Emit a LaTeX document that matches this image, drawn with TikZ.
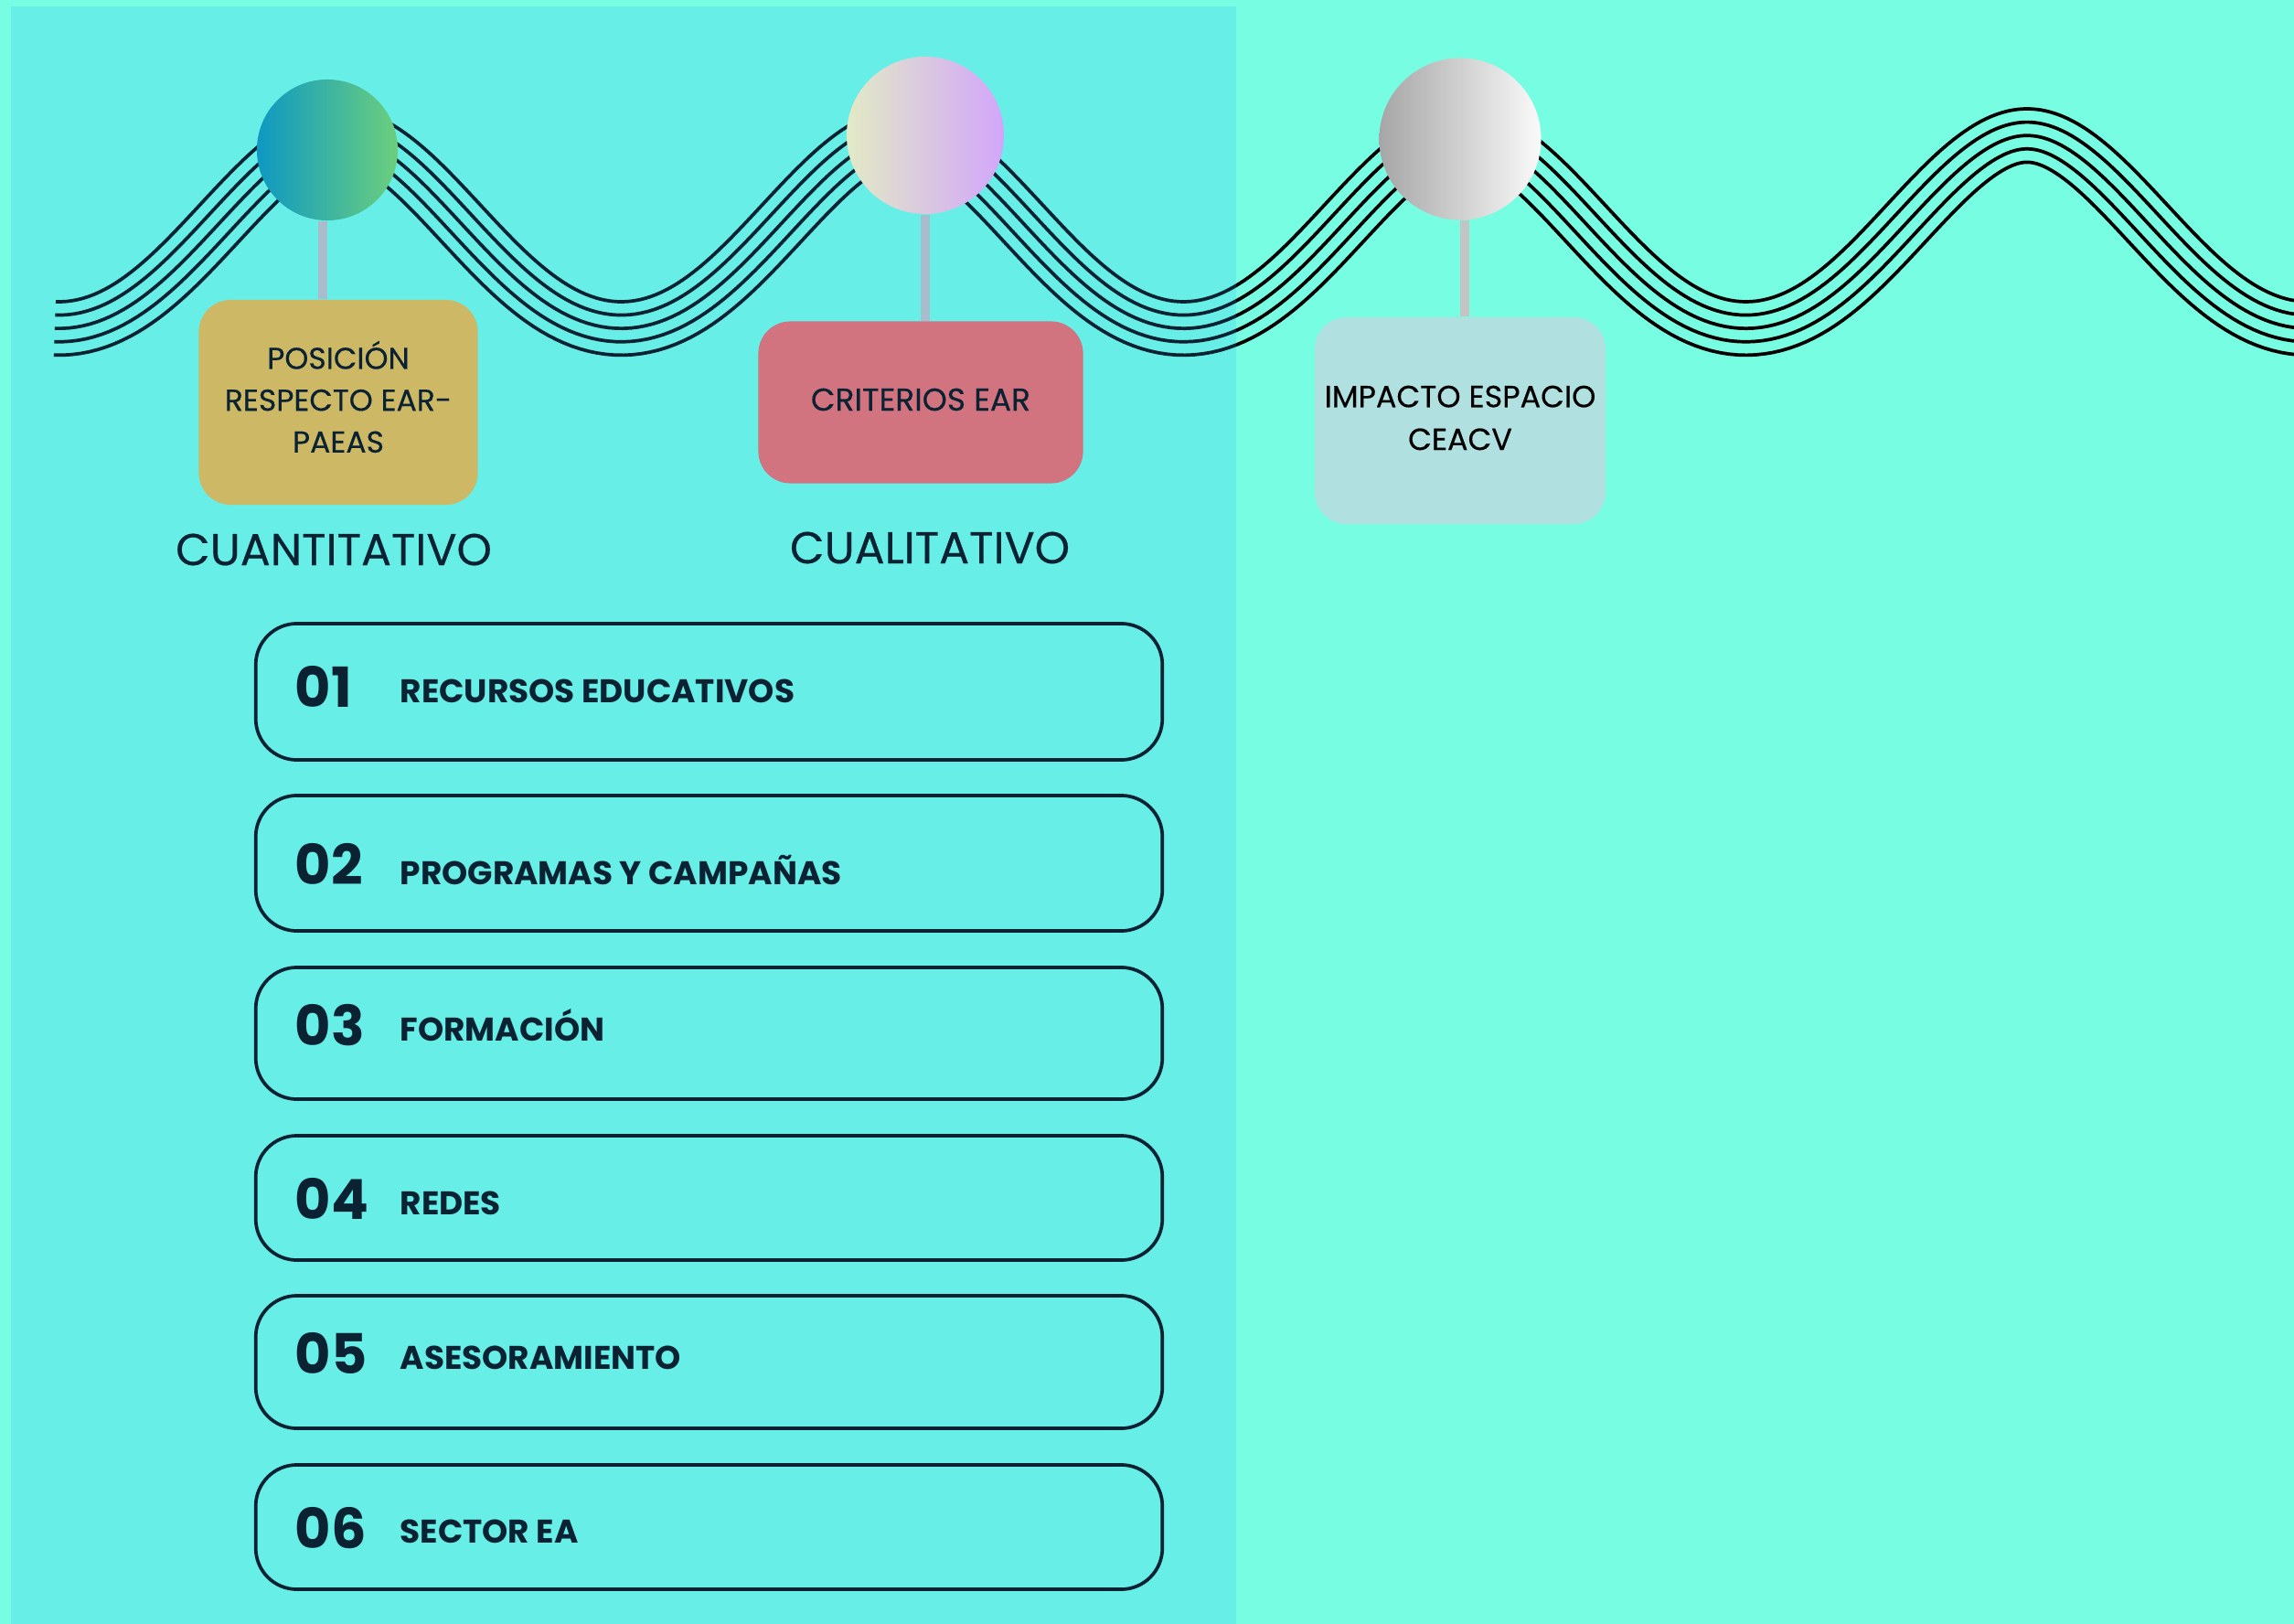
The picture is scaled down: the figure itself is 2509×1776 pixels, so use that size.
\documentclass[tikz,border=0pt]{standalone}
\usepackage{fontspec}
\setmainfont{Poppins}
\newfontfamily\popmed[FakeBold=0.35]{Poppins}
\definecolor{bgmint}{HTML}{77FDE1}
\definecolor{panel}{HTML}{67EEE7}
\definecolor{navy}{HTML}{0B2233}
\definecolor{gold}{HTML}{CDB866}
\definecolor{rose}{HTML}{D27380}
\definecolor{paleblue}{HTML}{B0E0E0}
\definecolor{stemblue}{HTML}{A8BCCC}
\definecolor{stemgray}{HTML}{C4C4C4}
\definecolor{cal}{HTML}{0E98C2}
\definecolor{car}{HTML}{6CCF7E}
\definecolor{cbl}{HTML}{E2EAC6}
\definecolor{cbr}{HTML}{D2A6FA}
\definecolor{ccl}{HTML}{A6A6A6}
\definecolor{ccr}{HTML}{FAFAFA}
\begin{document}
\begin{tikzpicture}[x=0.01cm,y=-0.01cm,
  wave/.style={line width=0.037cm, line join=round},
  stem/.style={line width=0.095cm},
  ball/.style={circle, inner sep=0pt},
  card/.style={rounded corners=0.35cm, inner sep=0pt},
  cardtext/.style={inner sep=0pt, align=center},
  itembox/.style={draw=navy, line width=0.037cm, rounded corners=0.45cm, minimum width=9.91cm, inner sep=0pt},
  num/.style={anchor=base west, text=navy, font=\bfseries\fontsize{17.2}{17.2}\selectfont, inner sep=0pt},
  itemtext/.style={anchor=base west, text=navy, font=\bfseries\fontsize{10.2}{10.2}\selectfont, inner sep=0pt},
  heading/.style={text=navy, inner sep=0pt, font=\popmed\fontsize{13.9}{13.9}\selectfont}
]
\useasboundingbox (0,0) rectangle (2509,1776);
\clip (0,0) rectangle (2509,1776);
\fill[bgmint] (0,0) rectangle (2509,1776);
\fill[panel] (12,7) rectangle (1352,1776);

% wave
\foreach \col/\xa/\xb in {navy/0/1352, black/1352/2509} {
  \begin{scope}
    \clip (\xa,0) rectangle (\xb,1776);
    \foreach \k in {0,...,4} {
      \draw[wave, \col] plot[domain=61:2560, samples=420, variable=\t]
        ({\t - \k*14.6*1.0778*sin(((\t-372)/615)*360)/sqrt(1+1.1616*sin(((\t-372)/615)*360)^2)},
         {224.5 - 105.5*cos(((\t-372)/615)*360) + \k*14.6/sqrt(1+1.1616*sin(((\t-372)/615)*360)^2)});
    }
  \end{scope}
}

% circles
\node[ball, minimum size=1.54cm, left color=cal, right color=car] (c1) at (358,164) {};
\node[ball, minimum size=1.72cm, left color=cbl, right color=cbr] (c2) at (1012,148) {};
\node[ball, minimum size=1.77cm, left color=ccl, right color=ccr] (c3) at (1597,152) {};

% cards
\node[card, fill=gold, minimum width=3.05cm, minimum height=2.24cm] (b1) at (370,440) {};
\node[card, fill=rose, minimum width=3.55cm, minimum height=1.77cm] (b2) at (1007,440) {};
\node[card, fill=paleblue, minimum width=3.18cm, minimum height=2.26cm] (b3) at (1597,460) {};

\node[cardtext, text=navy, font=\popmed\fontsize{9.4}{13}\selectfont] (l1) at (370,434)
      {POSICIÓN\\RESPECTO EAR-\\PAEAS};
\node[cardtext, text=navy, font=\popmed\fontsize{9.8}{13}\selectfont] (l2) at (1007,437) {CRITERIOS EAR};
\node[cardtext, text=black, font=\popmed\fontsize{9.5}{13.3}\selectfont] (l3) at (1597,457)
      {IMPACTO ESPACIO\\CEACV};

% stems
\draw[stem, stemblue] ([xshift=-0.05cm]c1.south) -- ([xshift=-0.05cm]c1.south |- b1.north);
\draw[stem, stemblue] (c2.south) -- (c2.south |- b2.north);
\draw[stem, stemgray] ([xshift=0.05cm]c3.south) -- ([xshift=0.05cm]c3.south |- b3.north);

% headings
\node[heading] (h1) at (365,601) {CUANTITATIVO};
\node[heading] (h2) at (1017,599) {CUALITATIVO};

% list
\node[itembox, minimum height=1.49cm] (i1) at (775.5,756.5) {};
\node[itembox, minimum height=1.48cm] (i2) at (775.5,944) {};
\node[itembox, minimum height=1.44cm] (i3) at (775.5,1130) {};
\node[itembox, minimum height=1.36cm] (i4) at (775.5,1310) {};
\node[itembox, minimum height=1.45cm] (i5) at (775.5,1489.5) {};
\node[itembox, minimum height=1.36cm] (i6) at (775.5,1670) {};

\node[num] (n1) at (322,773) {01};
\node[num] (n2) at (322,967) {02};
\node[num] (n3) at (322,1143) {03};
\node[num] (n4) at (322,1333) {04};
\node[num] (n5) at (322,1502) {05};
\node[num] (n6) at (322,1693) {06};

\node[itemtext] (t1) at (437,768) {RECURSOS EDUCATIVOS};
\node[itemtext] (t2) at (437,967) {PROGRAMAS Y CAMPAÑAS};
\node[itemtext] (t3) at (437,1138) {FORMACIÓN};
\node[itemtext] (t4) at (437,1328) {REDES};
\node[itemtext] (t5) at (437,1497) {ASESORAMIENTO};
\node[itemtext] (t6) at (437,1687) {SECTOR EA};
\end{tikzpicture}
\end{document}
